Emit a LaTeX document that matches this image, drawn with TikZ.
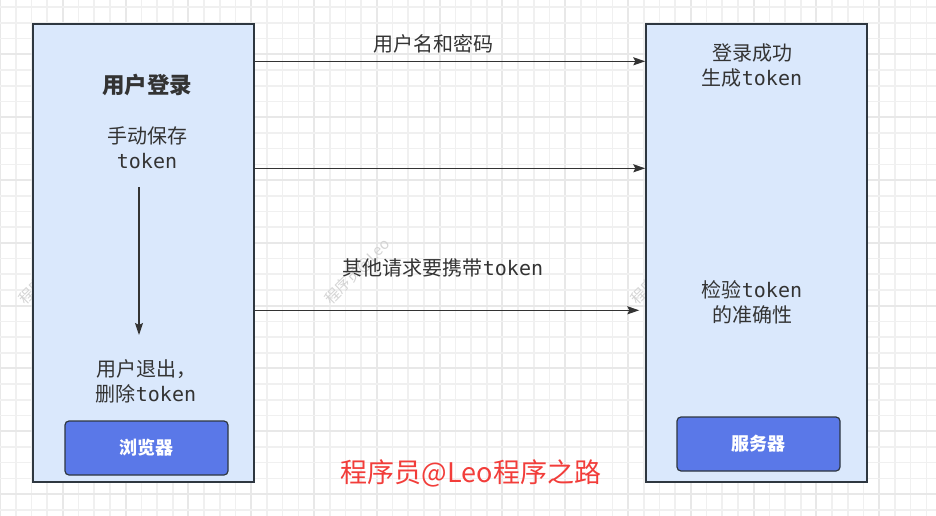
\documentclass[tikz,border=0pt]{standalone}
\usepackage{fontspec}
\setmainfont{Noto Sans CJK SC}
\setmonofont{DejaVu Sans Mono}
\usetikzlibrary{arrows.meta, positioning, calc}

\definecolor{panelfill}{HTML}{DAE8FC}
\definecolor{panelline}{HTML}{2E3740}
\definecolor{btnfill}{HTML}{5A78E8}
\definecolor{ink}{HTML}{333333}
\definecolor{signred}{HTML}{F23D3A}
\definecolor{gridminor}{HTML}{F0F0F0}
\definecolor{gridmajor}{HTML}{E8E8E8}
\newcommand{\tok}{{\ttfamily token}}

\tikzset{
  panel/.style={draw=panelline, fill=panelfill, line width=1.4pt, minimum width=221pt, minimum height=458pt, inner sep=0pt},
  btn/.style={draw=panelline, fill=btnfill, line width=1.2pt, rounded corners=4pt, minimum width=163pt, minimum height=54pt, text=white, font=\bfseries\fontsize{18}{22}\selectfont},
  say/.style={text=ink, align=center, font=\fontsize{20}{25}\selectfont, inner sep=1pt},
  flow/.style={draw=ink, line width=1.3pt, -{Stealth[length=12pt, width=8pt, inset=2pt]}},
  watermark/.style={text=black!17, rotate=45, anchor=south west, font=\fontsize{15}{18}\selectfont}
}

\begin{document}
\begin{tikzpicture}[x=1pt, y=-1pt]
\useasboundingbox[fill=white] (0,0) rectangle (936,516);
% background grid
\foreach \i in {0,...,59} {
  \pgfmathtruncatemacro{\major}{mod(\i,4)==0}
  \ifnum\major=1 \draw[gridmajor, line width=2pt] (\i*15.7,0) -- (\i*15.7,516);
  \else \draw[gridminor, line width=1.6pt] (\i*15.7,0) -- (\i*15.7,516); \fi
}
\foreach \j in {0,...,32} {
  \pgfmathtruncatemacro{\major}{mod(\j,4)==3}
  \ifnum\major=1 \draw[gridmajor, line width=2pt] (0,7.3+\j*15.7) -- (936,7.3+\j*15.7);
  \else \draw[gridminor, line width=1.6pt] (0,7.3+\j*15.7) -- (936,7.3+\j*15.7); \fi
}
% faint watermarks
\foreach \wx in {27,333,639}
  \node[watermark] (wm\wx) at (\wx,312) {程序员@Leo};

% the two sides
\node[panel] (browser) at (143.5,253) {};
\node[panel] (server) at (756.5,253) {};
\node[btn] (browserbtn) at (146.5,448) {浏览器};
\node[btn] (serverbtn) at (758.5,444) {服务器};

% texts on the browser side
\node[say, font=\bfseries\fontsize{22.5}{26}\selectfont] (login) at (147,85) {用户登录};
\node[say] (save) at (147,148) {手动保存\\\tok};
\node[say] (logout) at (146,381) {用户退出，\\删除\tok};
\coordinate (keep) at (139,187);
\coordinate (quit) at (139,335);
\draw[flow] (keep) -- (quit);

% texts on the server side
\node[say] (issue) at (752,65) {登录成功\\生成\tok};
\node[say] (check) at (752,302) {检验\tok\\的准确性};

% requests
\draw[flow] ($(browser.north east)+(0,38)$) -- ($(server.north west)+(0,38)$);
\draw[flow] ($(browser.north east)+(0,145)$) -- ($(server.north west)+(0,145)$);
\draw[flow] ($(browser.north east)+(0,287)$) -- ($(server.north west)+(-6,287)$);
\node[say] (cred) at (433,44) {用户名和密码};
\node[say] (carry) at (443,268) {其他请求要携带\tok};

% signature
\node[text=signred, font=\fontsize{27}{31}\selectfont] (sign) at (471,473) {程序员@Leo程序之路};
\end{tikzpicture}
\end{document}
